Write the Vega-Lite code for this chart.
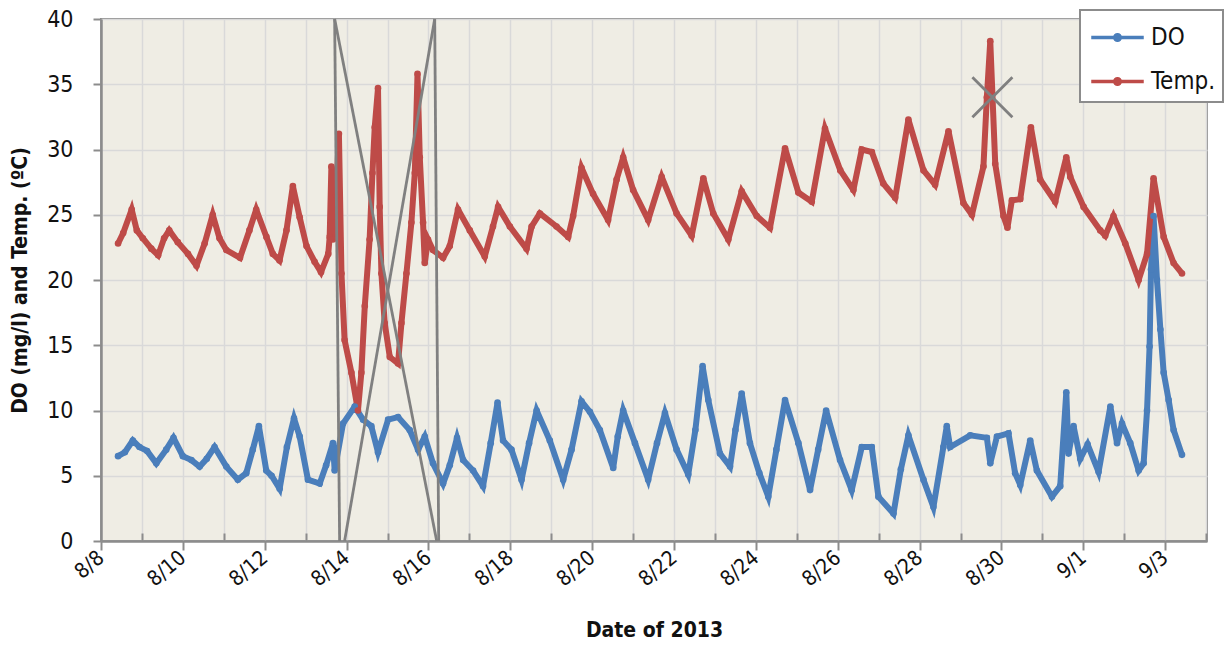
{
  "$schema": "https://vega.github.io/schema/vega-lite/v6.json",
  "autosize": {"type": "none"},
  "padding": {"left": 101, "top": 19, "right": 20, "bottom": 106},
  "width": 1106,
  "height": 522,
  "background": "white",
  "config": {
    "font": "Liberation Sans Narrow, DejaVu Sans Condensed, Roboto, sans-serif",
    "view": {"fill": "#EFEDE4", "stroke": "#8C8C8C", "strokeWidth": 2}
  },
  "datasets": {
    "series": [
      {"t":"2013-08-08T10:00","s":"DO","v":6.5},
      {"t":"2013-08-08T14:00","s":"DO","v":6.8},
      {"t":"2013-08-08T18:40","s":"DO","v":7.7},
      {"t":"2013-08-08T22:35","s":"DO","v":7.2},
      {"t":"2013-08-09T03:00","s":"DO","v":6.9},
      {"t":"2013-08-09T08:25","s":"DO","v":5.95},
      {"t":"2013-08-09T14:15","s":"DO","v":7.0},
      {"t":"2013-08-09T18:30","s":"DO","v":7.9},
      {"t":"2013-08-10T00:00","s":"DO","v":6.5},
      {"t":"2013-08-10T05:00","s":"DO","v":6.2},
      {"t":"2013-08-10T09:50","s":"DO","v":5.7},
      {"t":"2013-08-10T14:00","s":"DO","v":6.3},
      {"t":"2013-08-10T18:35","s":"DO","v":7.2},
      {"t":"2013-08-11T01:30","s":"DO","v":5.7},
      {"t":"2013-08-11T08:15","s":"DO","v":4.7},
      {"t":"2013-08-11T13:10","s":"DO","v":5.2},
      {"t":"2013-08-11T17:00","s":"DO","v":7.0},
      {"t":"2013-08-11T20:35","s":"DO","v":8.8},
      {"t":"2013-08-12T00:55","s":"DO","v":5.4},
      {"t":"2013-08-12T04:00","s":"DO","v":5.0},
      {"t":"2013-08-12T08:45","s":"DO","v":4.0},
      {"t":"2013-08-12T13:00","s":"DO","v":7.2},
      {"t":"2013-08-12T17:10","s":"DO","v":9.4},
      {"t":"2013-08-12T20:30","s":"DO","v":8.0},
      {"t":"2013-08-13T01:20","s":"DO","v":4.7},
      {"t":"2013-08-13T08:15","s":"DO","v":4.4},
      {"t":"2013-08-13T12:00","s":"DO","v":5.8},
      {"t":"2013-08-13T16:00","s":"DO","v":7.5},
      {"t":"2013-08-13T17:00","s":"DO","v":5.4},
      {"t":"2013-08-13T21:55","s":"DO","v":9.0},
      {"t":"2013-08-14T04:45","s":"DO","v":10.3},
      {"t":"2013-08-14T09:40","s":"DO","v":9.3},
      {"t":"2013-08-14T14:30","s":"DO","v":8.8},
      {"t":"2013-08-14T18:25","s":"DO","v":6.8},
      {"t":"2013-08-15T00:20","s":"DO","v":9.3},
      {"t":"2013-08-15T06:10","s":"DO","v":9.5},
      {"t":"2013-08-15T13:00","s":"DO","v":8.5},
      {"t":"2013-08-15T17:55","s":"DO","v":7.0},
      {"t":"2013-08-15T21:50","s":"DO","v":8.0},
      {"t":"2013-08-16T02:40","s":"DO","v":5.95},
      {"t":"2013-08-16T08:35","s":"DO","v":4.4},
      {"t":"2013-08-16T12:30","s":"DO","v":5.8},
      {"t":"2013-08-16T16:45","s":"DO","v":7.9},
      {"t":"2013-08-16T20:20","s":"DO","v":6.2},
      {"t":"2013-08-17T02:10","s":"DO","v":5.4},
      {"t":"2013-08-17T08:00","s":"DO","v":4.2},
      {"t":"2013-08-17T12:30","s":"DO","v":7.5},
      {"t":"2013-08-17T16:30","s":"DO","v":10.6},
      {"t":"2013-08-17T19:45","s":"DO","v":7.7},
      {"t":"2013-08-18T00:40","s":"DO","v":7.0},
      {"t":"2013-08-18T06:35","s":"DO","v":4.7},
      {"t":"2013-08-18T11:00","s":"DO","v":7.5},
      {"t":"2013-08-18T15:25","s":"DO","v":10.0},
      {"t":"2013-08-18T23:10","s":"DO","v":7.7},
      {"t":"2013-08-19T07:00","s":"DO","v":4.7},
      {"t":"2013-08-19T11:55","s":"DO","v":7.0},
      {"t":"2013-08-19T17:45","s":"DO","v":10.7},
      {"t":"2013-08-19T22:40","s":"DO","v":9.9},
      {"t":"2013-08-20T04:30","s":"DO","v":8.5},
      {"t":"2013-08-20T12:20","s":"DO","v":5.6},
      {"t":"2013-08-20T15:00","s":"DO","v":8.0},
      {"t":"2013-08-20T18:10","s":"DO","v":10.0},
      {"t":"2013-08-21T01:05","s":"DO","v":7.5},
      {"t":"2013-08-21T08:50","s":"DO","v":4.7},
      {"t":"2013-08-21T14:00","s":"DO","v":7.5},
      {"t":"2013-08-21T18:40","s":"DO","v":9.8},
      {"t":"2013-08-22T01:30","s":"DO","v":7.0},
      {"t":"2013-08-22T08:20","s":"DO","v":5.1},
      {"t":"2013-08-22T12:30","s":"DO","v":8.5},
      {"t":"2013-08-22T16:45","s":"DO","v":13.4},
      {"t":"2013-08-22T20:05","s":"DO","v":10.8},
      {"t":"2013-08-23T02:55","s":"DO","v":6.7},
      {"t":"2013-08-23T08:50","s":"DO","v":5.7},
      {"t":"2013-08-23T12:00","s":"DO","v":8.5},
      {"t":"2013-08-23T15:40","s":"DO","v":11.3},
      {"t":"2013-08-23T20:30","s":"DO","v":7.5},
      {"t":"2013-08-24T02:00","s":"DO","v":5.2},
      {"t":"2013-08-24T07:15","s":"DO","v":3.4},
      {"t":"2013-08-24T12:00","s":"DO","v":7.0},
      {"t":"2013-08-24T17:05","s":"DO","v":10.8},
      {"t":"2013-08-25T00:55","s":"DO","v":7.5},
      {"t":"2013-08-25T07:45","s":"DO","v":3.9},
      {"t":"2013-08-25T12:30","s":"DO","v":7.0},
      {"t":"2013-08-25T17:10","s":"DO","v":10.0},
      {"t":"2013-08-26T01:20","s":"DO","v":6.2},
      {"t":"2013-08-26T08:10","s":"DO","v":3.9},
      {"t":"2013-08-26T14:05","s":"DO","v":7.2},
      {"t":"2013-08-26T19:55","s":"DO","v":7.2},
      {"t":"2013-08-26T23:50","s":"DO","v":3.4},
      {"t":"2013-08-27T08:40","s":"DO","v":2.1},
      {"t":"2013-08-27T13:00","s":"DO","v":5.5},
      {"t":"2013-08-27T17:25","s":"DO","v":8.1},
      {"t":"2013-08-28T02:15","s":"DO","v":4.7},
      {"t":"2013-08-28T08:05","s":"DO","v":2.6},
      {"t":"2013-08-28T13:55","s":"DO","v":7.2},
      {"t":"2013-08-28T15:55","s":"DO","v":8.8},
      {"t":"2013-08-28T17:55","s":"DO","v":7.2},
      {"t":"2013-08-29T05:40","s":"DO","v":8.1},
      {"t":"2013-08-29T15:25","s":"DO","v":7.9},
      {"t":"2013-08-29T17:25","s":"DO","v":5.95},
      {"t":"2013-08-29T21:20","s":"DO","v":8.0},
      {"t":"2013-08-30T04:05","s":"DO","v":8.25},
      {"t":"2013-08-30T08:00","s":"DO","v":5.2},
      {"t":"2013-08-30T11:00","s":"DO","v":4.3},
      {"t":"2013-08-30T16:50","s":"DO","v":7.7},
      {"t":"2013-08-30T20:45","s":"DO","v":5.4},
      {"t":"2013-08-31T05:35","s":"DO","v":3.4},
      {"t":"2013-08-31T10:25","s":"DO","v":4.2},
      {"t":"2013-08-31T14:00","s":"DO","v":11.4},
      {"t":"2013-08-31T15:20","s":"DO","v":6.7},
      {"t":"2013-08-31T18:15","s":"DO","v":8.8},
      {"t":"2013-08-31T22:10","s":"DO","v":6.3},
      {"t":"2013-09-01T02:30","s":"DO","v":7.4},
      {"t":"2013-09-01T08:55","s":"DO","v":5.3},
      {"t":"2013-09-01T15:50","s":"DO","v":10.3},
      {"t":"2013-09-01T19:45","s":"DO","v":7.5},
      {"t":"2013-09-01T22:40","s":"DO","v":9.0},
      {"t":"2013-09-02T03:30","s":"DO","v":7.5},
      {"t":"2013-09-02T08:25","s":"DO","v":5.4},
      {"t":"2013-09-02T11:20","s":"DO","v":5.95},
      {"t":"2013-09-02T13:20","s":"DO","v":10.0},
      {"t":"2013-09-02T14:50","s":"DO","v":14.9},
      {"t":"2013-09-02T15:40","s":"DO","v":20.8},
      {"t":"2013-09-02T17:10","s":"DO","v":24.9},
      {"t":"2013-09-02T19:10","s":"DO","v":20.0},
      {"t":"2013-09-02T21:10","s":"DO","v":16.2},
      {"t":"2013-09-02T23:05","s":"DO","v":12.9},
      {"t":"2013-09-03T02:00","s":"DO","v":10.8},
      {"t":"2013-09-03T04:55","s":"DO","v":8.5},
      {"t":"2013-09-03T09:50","s":"DO","v":6.6},
      {"t":"2013-08-08T10:00","s":"Temp.","v":22.8},
      {"t":"2013-08-08T13:00","s":"Temp.","v":23.6},
      {"t":"2013-08-08T18:00","s":"Temp.","v":25.4},
      {"t":"2013-08-08T21:00","s":"Temp.","v":23.8},
      {"t":"2013-08-09T00:30","s":"Temp.","v":23.2},
      {"t":"2013-08-09T05:30","s":"Temp.","v":22.4},
      {"t":"2013-08-09T09:30","s":"Temp.","v":21.9},
      {"t":"2013-08-09T13:00","s":"Temp.","v":23.2},
      {"t":"2013-08-09T16:00","s":"Temp.","v":23.8},
      {"t":"2013-08-09T21:00","s":"Temp.","v":22.9},
      {"t":"2013-08-10T03:00","s":"Temp.","v":22.0},
      {"t":"2013-08-10T08:00","s":"Temp.","v":21.1},
      {"t":"2013-08-10T12:45","s":"Temp.","v":22.8},
      {"t":"2013-08-10T17:30","s":"Temp.","v":25.0},
      {"t":"2013-08-10T21:30","s":"Temp.","v":23.2},
      {"t":"2013-08-11T01:30","s":"Temp.","v":22.3},
      {"t":"2013-08-11T09:30","s":"Temp.","v":21.7},
      {"t":"2013-08-11T15:00","s":"Temp.","v":23.8},
      {"t":"2013-08-11T19:00","s":"Temp.","v":25.4},
      {"t":"2013-08-12T01:00","s":"Temp.","v":23.3},
      {"t":"2013-08-12T04:45","s":"Temp.","v":22.0},
      {"t":"2013-08-12T08:40","s":"Temp.","v":21.5},
      {"t":"2013-08-12T12:45","s":"Temp.","v":23.8},
      {"t":"2013-08-12T16:30","s":"Temp.","v":27.2},
      {"t":"2013-08-12T20:30","s":"Temp.","v":24.8},
      {"t":"2013-08-13T00:30","s":"Temp.","v":22.6},
      {"t":"2013-08-13T05:15","s":"Temp.","v":21.4},
      {"t":"2013-08-13T09:00","s":"Temp.","v":20.6},
      {"t":"2013-08-13T13:15","s":"Temp.","v":22.0},
      {"t":"2013-08-13T14:05","s":"Temp.","v":23.3},
      {"t":"2013-08-13T15:05","s":"Temp.","v":28.7},
      {"t":"2013-08-13T16:00","s":"Temp.","v":23.1},
      {"t":"2013-08-13T17:55","s":"Temp.","v":26.5},
      {"t":"2013-08-13T19:30","s":"Temp.","v":31.2},
      {"t":"2013-08-13T21:00","s":"Temp.","v":20.5},
      {"t":"2013-08-13T22:50","s":"Temp.","v":15.4},
      {"t":"2013-08-14T02:50","s":"Temp.","v":12.9},
      {"t":"2013-08-14T06:40","s":"Temp.","v":10.0},
      {"t":"2013-08-14T08:40","s":"Temp.","v":12.9},
      {"t":"2013-08-14T10:40","s":"Temp.","v":18.0},
      {"t":"2013-08-14T13:30","s":"Temp.","v":23.1},
      {"t":"2013-08-14T15:10","s":"Temp.","v":28.2},
      {"t":"2013-08-14T16:30","s":"Temp.","v":31.7},
      {"t":"2013-08-14T18:25","s":"Temp.","v":34.7},
      {"t":"2013-08-14T19:25","s":"Temp.","v":25.6},
      {"t":"2013-08-14T20:25","s":"Temp.","v":20.5},
      {"t":"2013-08-14T22:20","s":"Temp.","v":16.7},
      {"t":"2013-08-15T01:20","s":"Temp.","v":14.1},
      {"t":"2013-08-15T06:10","s":"Temp.","v":13.6},
      {"t":"2013-08-15T08:10","s":"Temp.","v":16.7},
      {"t":"2013-08-15T11:05","s":"Temp.","v":20.5},
      {"t":"2013-08-15T14:00","s":"Temp.","v":24.4},
      {"t":"2013-08-15T16:00","s":"Temp.","v":28.2},
      {"t":"2013-08-15T17:35","s":"Temp.","v":35.8},
      {"t":"2013-08-15T18:55","s":"Temp.","v":29.4},
      {"t":"2013-08-15T20:50","s":"Temp.","v":24.4},
      {"t":"2013-08-15T21:50","s":"Temp.","v":21.3},
      {"t":"2013-08-15T23:45","s":"Temp.","v":23.1},
      {"t":"2013-08-16T02:40","s":"Temp.","v":22.3},
      {"t":"2013-08-16T08:35","s":"Temp.","v":21.7},
      {"t":"2013-08-16T12:30","s":"Temp.","v":22.6},
      {"t":"2013-08-16T17:20","s":"Temp.","v":25.4},
      {"t":"2013-08-17T00:15","s":"Temp.","v":23.8},
      {"t":"2013-08-17T09:00","s":"Temp.","v":21.8},
      {"t":"2013-08-17T13:50","s":"Temp.","v":24.1},
      {"t":"2013-08-17T16:50","s":"Temp.","v":25.6},
      {"t":"2013-08-17T23:45","s":"Temp.","v":24.1},
      {"t":"2013-08-18T09:30","s":"Temp.","v":22.4},
      {"t":"2013-08-18T12:30","s":"Temp.","v":24.1},
      {"t":"2013-08-18T17:20","s":"Temp.","v":25.1},
      {"t":"2013-08-19T03:05","s":"Temp.","v":24.1},
      {"t":"2013-08-19T09:55","s":"Temp.","v":23.3},
      {"t":"2013-08-19T12:50","s":"Temp.","v":24.9},
      {"t":"2013-08-19T17:45","s":"Temp.","v":28.6},
      {"t":"2013-08-20T00:30","s":"Temp.","v":26.6},
      {"t":"2013-08-20T09:20","s":"Temp.","v":24.6},
      {"t":"2013-08-20T14:20","s":"Temp.","v":27.7},
      {"t":"2013-08-20T18:10","s":"Temp.","v":29.4},
      {"t":"2013-08-21T00:00","s":"Temp.","v":26.9},
      {"t":"2013-08-21T08:50","s":"Temp.","v":24.6},
      {"t":"2013-08-21T16:45","s":"Temp.","v":27.9},
      {"t":"2013-08-22T01:30","s":"Temp.","v":25.1},
      {"t":"2013-08-22T10:20","s":"Temp.","v":23.4},
      {"t":"2013-08-22T17:10","s":"Temp.","v":27.8},
      {"t":"2013-08-22T23:00","s":"Temp.","v":25.1},
      {"t":"2013-08-23T07:50","s":"Temp.","v":23.1},
      {"t":"2013-08-23T15:40","s":"Temp.","v":26.8},
      {"t":"2013-08-24T00:30","s":"Temp.","v":24.9},
      {"t":"2013-08-24T08:15","s":"Temp.","v":24.0},
      {"t":"2013-08-24T17:05","s":"Temp.","v":30.1},
      {"t":"2013-08-25T00:55","s":"Temp.","v":26.7},
      {"t":"2013-08-25T08:45","s":"Temp.","v":26.0},
      {"t":"2013-08-25T16:30","s":"Temp.","v":31.6},
      {"t":"2013-08-26T01:30","s":"Temp.","v":28.4},
      {"t":"2013-08-26T09:10","s":"Temp.","v":26.9},
      {"t":"2013-08-26T14:05","s":"Temp.","v":30.0},
      {"t":"2013-08-26T20:00","s":"Temp.","v":29.8},
      {"t":"2013-08-27T02:40","s":"Temp.","v":27.4},
      {"t":"2013-08-27T09:40","s":"Temp.","v":26.3},
      {"t":"2013-08-27T17:25","s":"Temp.","v":32.3},
      {"t":"2013-08-28T02:15","s":"Temp.","v":28.4},
      {"t":"2013-08-28T09:05","s":"Temp.","v":27.3},
      {"t":"2013-08-28T16:55","s":"Temp.","v":31.4},
      {"t":"2013-08-29T01:40","s":"Temp.","v":25.9},
      {"t":"2013-08-29T06:40","s":"Temp.","v":25.0},
      {"t":"2013-08-29T13:25","s":"Temp.","v":28.7},
      {"t":"2013-08-29T15:25","s":"Temp.","v":34.0},
      {"t":"2013-08-29T17:25","s":"Temp.","v":38.3},
      {"t":"2013-08-29T20:20","s":"Temp.","v":28.9},
      {"t":"2013-08-30T01:10","s":"Temp.","v":24.9},
      {"t":"2013-08-30T03:30","s":"Temp.","v":24.0},
      {"t":"2013-08-30T06:05","s":"Temp.","v":26.1},
      {"t":"2013-08-30T11:00","s":"Temp.","v":26.2},
      {"t":"2013-08-30T17:15","s":"Temp.","v":31.7},
      {"t":"2013-08-30T22:40","s":"Temp.","v":27.7},
      {"t":"2013-08-31T07:30","s":"Temp.","v":26.0},
      {"t":"2013-08-31T14:00","s":"Temp.","v":29.4},
      {"t":"2013-08-31T16:20","s":"Temp.","v":27.9},
      {"t":"2013-09-01T00:10","s":"Temp.","v":25.6},
      {"t":"2013-09-01T09:55","s":"Temp.","v":23.8},
      {"t":"2013-09-01T12:50","s":"Temp.","v":23.4},
      {"t":"2013-09-01T17:40","s":"Temp.","v":24.9},
      {"t":"2013-09-02T00:35","s":"Temp.","v":22.8},
      {"t":"2013-09-02T08:25","s":"Temp.","v":20.0},
      {"t":"2013-09-02T13:20","s":"Temp.","v":22.0},
      {"t":"2013-09-02T17:10","s":"Temp.","v":27.8},
      {"t":"2013-09-02T23:05","s":"Temp.","v":23.3},
      {"t":"2013-09-03T04:55","s":"Temp.","v":21.3},
      {"t":"2013-09-03T09:50","s":"Temp.","v":20.5}
    ],
    "segs": [
      {"t1":"2013-08-13T17:00","v1":40,"t2":"2013-08-13T19:55","v2":0},
      {"t1":"2013-08-13T17:00","v1":40,"t2":"2013-08-16T04:50","v2":0},
      {"t1":"2013-08-13T22:50","v1":0,"t2":"2013-08-16T03:40","v2":40},
      {"t1":"2013-08-16T03:40","v1":40,"t2":"2013-08-16T06:00","v2":0}
    ],
    "cross": [
      {"t":"2013-08-29T18:40","v":34.0}
    ]
  },
  "layer": [
    {
      "data": {"name": "series"},
      "mark": {"type": "line", "strokeWidth": 6, "point": {"filled": true, "size": 44}},
      "encoding": {
        "x": {
          "field": "t", "type": "temporal",
          "scale": {"domain": ["2013-08-08T00:00", "2013-09-04T00:30"]},
          "axis": {
            "title": "Date of 2013",
            "titleFontSize": 21, "titleFontWeight": "bold", "titleColor": "#111", "titlePadding": 30,
            "tickCount": {"interval": "day", "step": 1},
            "labelExpr": "month(datum.value)==7 ? (date(datum.value)%2==0 ? '8/'+date(datum.value) : '') : (date(datum.value)%2==1 ? '9/'+date(datum.value) : '')",
            "labelAngle": -40, "labelAlign": "right", "labelBaseline": "middle",
            "labelFontSize": 21, "labelColor": "#111", "labelPadding": 5,
            "labelOverlap": false, "labelBound": false, "labelFlush": false,
            "tickSize": {"condition": {"test": "(month(datum.value)==7 && date(datum.value)%2==0) || (month(datum.value)==8 && date(datum.value)%2==1)", "value": 9}, "value": -8},
            "tickColor": "#8C8C8C", "tickWidth": 2,
            "domainColor": "#8C8C8C", "domainWidth": 2.5,
            "grid": true, "gridColor": "#D9D9D9", "gridWidth": 1.5
          }
        },
        "y": {
          "field": "v", "type": "quantitative",
          "scale": {"domain": [0, 40], "nice": false},
          "axis": {
            "title": "DO (mg/l) and Temp. (ºC)",
            "titleFontSize": 21, "titleFontWeight": "bold", "titleColor": "#111", "titlePadding": 16,
            "values": [0, 5, 10, 15, 20, 25, 30, 35, 40],
            "labelFontSize": 23, "labelColor": "#111", "labelPadding": 20,
            "tickSize": 8, "tickColor": "#8C8C8C", "tickWidth": 2,
            "domainColor": "#8C8C8C", "domainWidth": 2.5,
            "grid": true, "gridColor": "#D9D9D9", "gridWidth": 1.5
          }
        },
        "color": {
          "field": "s", "type": "nominal",
          "scale": {"domain": ["DO", "Temp."], "range": ["#4A7EBB", "#BE4B48"]},
          "legend": {
            "title": null,
            "orient": "none", "legendX": 979, "legendY": -9,
            "fillColor": "white", "strokeColor": "#8C8C8C",
            "padding": 8,
            "symbolType": "M-1.5,0H1.5M0.16,0A0.16,0.16,0,1,1,-0.16,0A0.16,0.16,0,1,1,0.16,0Z",
            "symbolSize": 1225, "symbolStrokeWidth": 3.5, "symbolOffset": 10,
            "labelFontSize": 24, "labelColor": "#111", "labelOffset": 14,
            "rowPadding": 12,
            "encode": {
              "legend": {"update": {"strokeWidth": {"value": 2}}},
              "symbols": {"update": {"fill": {"scale": "color", "field": "value"}}}
            }
          }
        }
      }
    },
    {
      "data": {"name": "segs"},
      "mark": {"type": "rule", "color": "#808080", "strokeWidth": 2.8},
      "encoding": {
        "x": {"field": "t1", "type": "temporal"},
        "x2": {"field": "t2"},
        "y": {"field": "v1", "type": "quantitative"},
        "y2": {"field": "v2"}
      }
    },
    {
      "data": {"name": "cross"},
      "mark": {"type": "point", "shape": "M-1,-1L1,1M-1,1L1,-1", "size": 1600, "filled": false, "stroke": "#808080", "strokeWidth": 2.8, "opacity": 1},
      "encoding": {
        "x": {"field": "t", "type": "temporal"},
        "y": {"field": "v", "type": "quantitative"}
      }
    }
  ]
}
